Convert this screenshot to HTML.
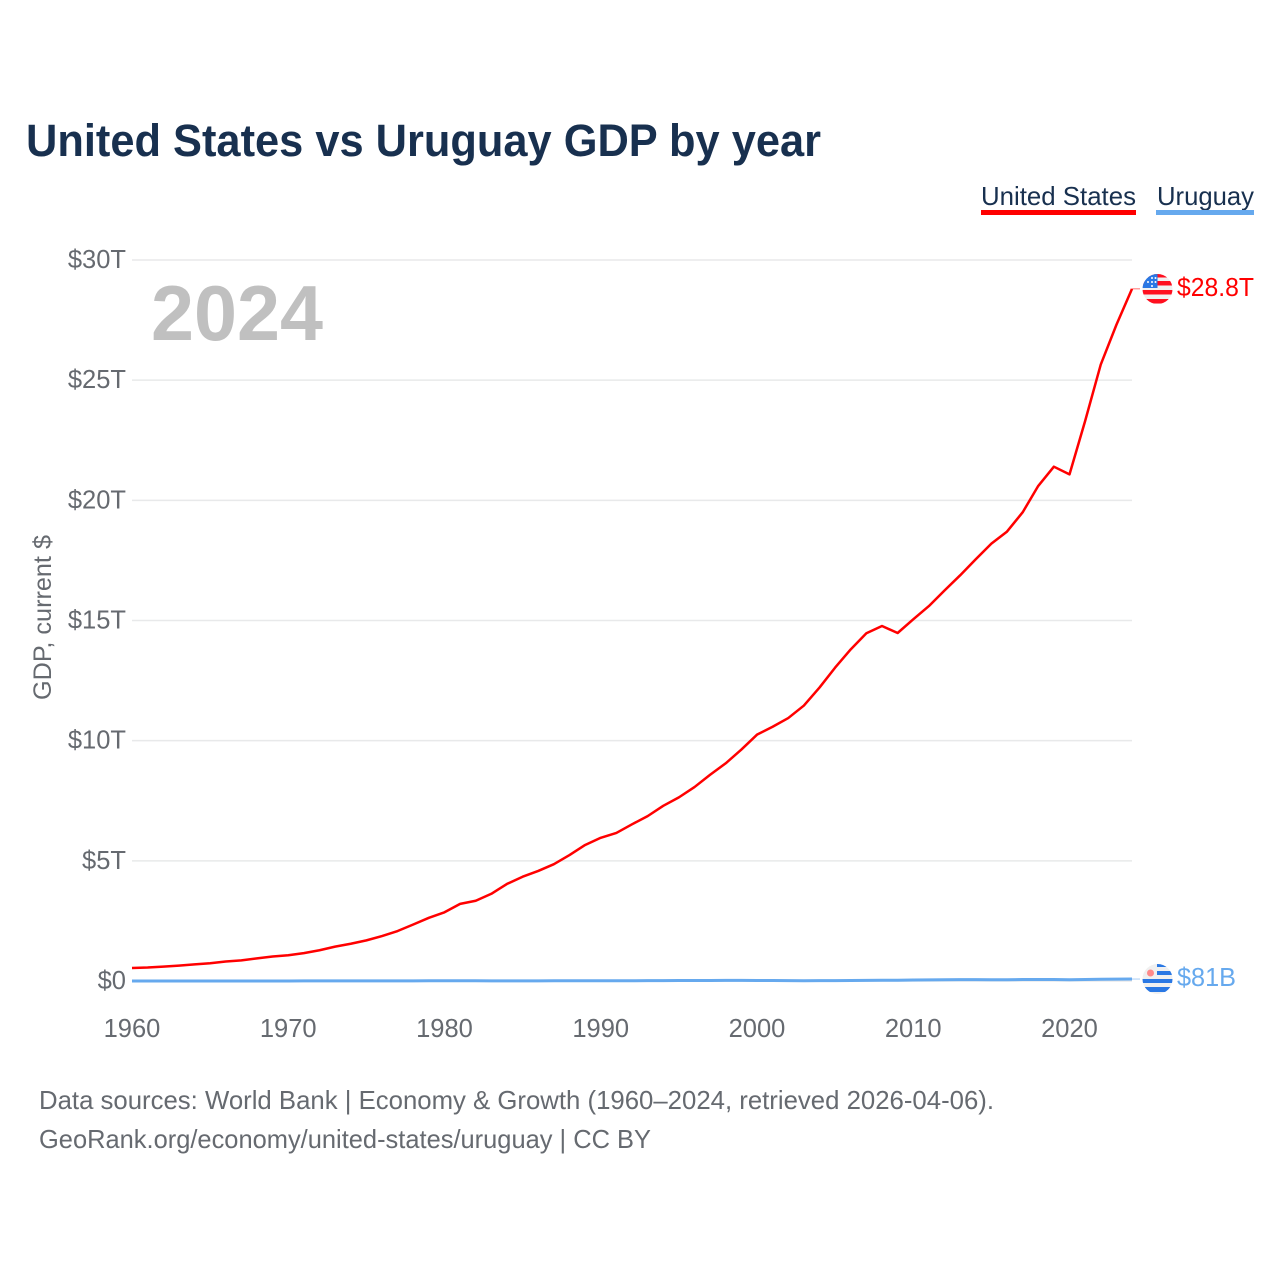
<!DOCTYPE html>
<html lang="en">
<head>
<meta charset="utf-8">
<title>United States vs Uruguay GDP by year</title>
<style>
html,body{margin:0;padding:0;background:#fff;}
#chart{display:block;width:1280px;height:1280px;font-family:"Liberation Sans",sans-serif;}
</style>
</head>
<body>
<svg id="chart" xmlns="http://www.w3.org/2000/svg" width="1280" height="1280" viewBox="0 0 1280 1280">
  <rect width="1280" height="1280" fill="#ffffff"/>
  <text x="26" y="156" font-size="45" font-weight="700" fill="#18304f" textLength="795" lengthAdjust="spacingAndGlyphs">United States vs Uruguay GDP by year</text>

  <text x="981" y="205" font-size="26" fill="#18304f" textLength="155" lengthAdjust="spacingAndGlyphs">United States</text>
  <rect x="981" y="210" width="155" height="5" fill="#ff0000"/>
  <text x="1157" y="205" font-size="26" fill="#18304f" textLength="97" lengthAdjust="spacingAndGlyphs">Uruguay</text>
  <rect x="1156" y="210" width="98" height="5" fill="#66a9ee"/>

  <g id="grid"></g>
  <g id="yticks"></g>
  <g id="xticks"></g>

  <text transform="translate(51,700) rotate(-90)" font-size="25" fill="#666a70" textLength="165" lengthAdjust="spacingAndGlyphs">GDP, current $</text>
  <text x="151" y="340" font-size="78" font-weight="700" fill="#c0c0c0" textLength="172" lengthAdjust="spacingAndGlyphs">2024</text>

  <g id="series"></g>

  <defs>
    <clipPath id="clip-us"><circle cx="1157.500" cy="289" r="15"/></clipPath>
    <clipPath id="clip-uy"><circle cx="1157.500" cy="979" r="15"/></clipPath>
  </defs>

  <g clip-path="url(#clip-us)">
    <rect x="1142" y="274" width="31" height="30" fill="#f0f0f0"/>
    <rect x="1142" y="274" width="31" height="3.500" fill="#ff0f1f"/>
    <rect x="1142" y="281" width="31" height="4.500" fill="#ff0f1f"/>
    <rect x="1142" y="290" width="31" height="4.500" fill="#ff0f1f"/>
    <rect x="1142" y="299" width="31" height="4.500" fill="#ff0f1f"/>
    <rect x="1142" y="274" width="15.500" height="14" fill="#2a78e4"/>
    <circle cx="1148" cy="282" r="1" fill="#ffffff"/>
    <circle cx="1152" cy="282" r="1" fill="#ffffff"/>
    <circle cx="1155.500" cy="282" r="1" fill="#ffffff"/>
    <circle cx="1152" cy="278" r="1" fill="#ffffff"/>
    <circle cx="1155.500" cy="278" r="1" fill="#ffffff"/>
    <circle cx="1152" cy="286" r="1" fill="#ffffff"/>
  </g>
  <text x="1177" y="296" font-size="25.500" fill="#ff0000" textLength="77" lengthAdjust="spacingAndGlyphs">$28.8T</text>

  <g clip-path="url(#clip-uy)">
    <rect x="1142" y="964" width="31" height="30" fill="#f0f0f0"/>
    <rect x="1157" y="964" width="16" height="3" fill="#2a78e4"/>
    <rect x="1157" y="971" width="16" height="4" fill="#2a78e4"/>
    <rect x="1142" y="979" width="31" height="4" fill="#2a78e4"/>
    <rect x="1142" y="987" width="31" height="5" fill="#2a78e4"/>
    <circle cx="1150.500" cy="973" r="3.500" fill="#ff8a8a"/>
  </g>
  <text x="1177" y="986" font-size="25.500" fill="#66a9ee" textLength="59" lengthAdjust="spacingAndGlyphs">$81B</text>

  <text x="39" y="1109" font-size="26" fill="#666a70" textLength="955" lengthAdjust="spacingAndGlyphs">Data sources: World Bank | Economy &amp; Growth (1960–2024, retrieved 2026-04-06).</text>
  <text x="39" y="1148" font-size="26" fill="#666a70" textLength="612" lengthAdjust="spacingAndGlyphs">GeoRank.org/economy/united-states/uruguay | CC BY</text>
</svg>

<script>
const years = [1960,1961,1962,1963,1964,1965,1966,1967,1968,1969,1970,1971,1972,1973,1974,1975,1976,1977,1978,1979,1980,1981,1982,1983,1984,1985,1986,1987,1988,1989,1990,1991,1992,1993,1994,1995,1996,1997,1998,1999,2000,2001,2002,2003,2004,2005,2006,2007,2008,2009,2010,2011,2012,2013,2014,2015,2016,2017,2018,2019,2020,2021,2022,2023,2024];
const unitedStatesGdp = [0.54,0.56,0.60,0.64,0.69,0.74,0.81,0.86,0.94,1.02,1.07,1.16,1.28,1.43,1.55,1.69,1.87,2.08,2.35,2.63,2.86,3.21,3.34,3.63,4.04,4.34,4.58,4.86,5.24,5.66,5.96,6.16,6.52,6.86,7.29,7.64,8.07,8.58,9.06,9.63,10.25,10.58,10.94,11.46,12.21,13.04,13.80,14.47,14.77,14.48,15.05,15.60,16.25,16.88,17.55,18.20,18.70,19.50,20.60,21.40,21.08,23.30,25.65,27.30,28.80];
const uruguayGdp = [0.001,0.002,0.002,0.002,0.002,0.002,0.002,0.002,0.002,0.002,0.002,0.003,0.003,0.004,0.004,0.004,0.004,0.005,0.006,0.008,0.010,0.011,0.010,0.005,0.005,0.005,0.006,0.008,0.008,0.008,0.009,0.011,0.012,0.015,0.018,0.020,0.021,0.023,0.025,0.024,0.023,0.021,0.014,0.012,0.014,0.017,0.020,0.024,0.030,0.032,0.040,0.048,0.052,0.058,0.057,0.053,0.053,0.060,0.060,0.062,0.054,0.061,0.071,0.077,0.081];
const yTickValues = [0,5,10,15,20,25,30];
const yTickLabels = ["$0","$5T","$10T","$15T","$20T","$25T","$30T"];
const xTickValues = [1960,1970,1980,1990,2000,2010,2020];

const SVG_NS = "http://www.w3.org/2000/svg";
function xScale(year){ return 132 + (year - 1960) * (1000 / 64); }
function yScale(value){ return 981 - value * (721 / 30); }
function make(tag, attrs){
  const el = document.createElementNS(SVG_NS, tag);
  for (const k in attrs) el.setAttribute(k, attrs[k]);
  return el;
}

const grid = document.getElementById("grid");
const yticks = document.getElementById("yticks");
const xticks = document.getElementById("xticks");
const series = document.getElementById("series");

yTickValues.forEach(function(v, i){
  const line = make("line", {x1:132, x2:1132, y1:yScale(v), y2:yScale(v), stroke:"#e8e9ea", "stroke-width":1.5});
  
  
  grid.appendChild(line);

  const label = make("text", {x:126, y:yScale(v) + 8, "text-anchor":"end", "font-size":25.5, fill:"#666a70"});
  
  
  label.textContent = yTickLabels[i];
  yticks.appendChild(label);
});

xTickValues.forEach(function(y){
  const label = make("text", {x:xScale(y), y:1037, "text-anchor":"middle", "font-size":25.5, fill:"#666a70"});
  
  
  label.textContent = String(y);
  xticks.appendChild(label);
});

function pointsFor(values){
  return values.map(function(v, i){ return xScale(years[i]).toFixed(2) + "," + yScale(v).toFixed(2); }).join(" ");
}
function lastPoint(values){
  const i = values.length - 1;
  return {x: xScale(years[i]), y: yScale(values[i])};
}

const uyEnd = lastPoint(uruguayGdp);
const usEnd = lastPoint(unitedStatesGdp);

const uyLeader = make("line", {x1:uyEnd.x, y1:uyEnd.y, x2:1140, y2:uyEnd.y, stroke:"#a9cdf5", "stroke-width":1});


series.appendChild(uyLeader);

const usLeader = make("line", {x1:usEnd.x, y1:usEnd.y, x2:1140, y2:usEnd.y, stroke:"#ff7070", "stroke-width":1});


series.appendChild(usLeader);

const uyLine = make("polyline", {points:pointsFor(uruguayGdp), fill:"none", stroke:"#66a9ee", "stroke-width":3, "stroke-linejoin":"round"});


series.appendChild(uyLine);

const usLine = make("polyline", {points:pointsFor(unitedStatesGdp), fill:"none", stroke:"#ff0000", "stroke-width":2.5, "stroke-linejoin":"round"});


series.appendChild(usLine);
</script>
</body>
</html>
